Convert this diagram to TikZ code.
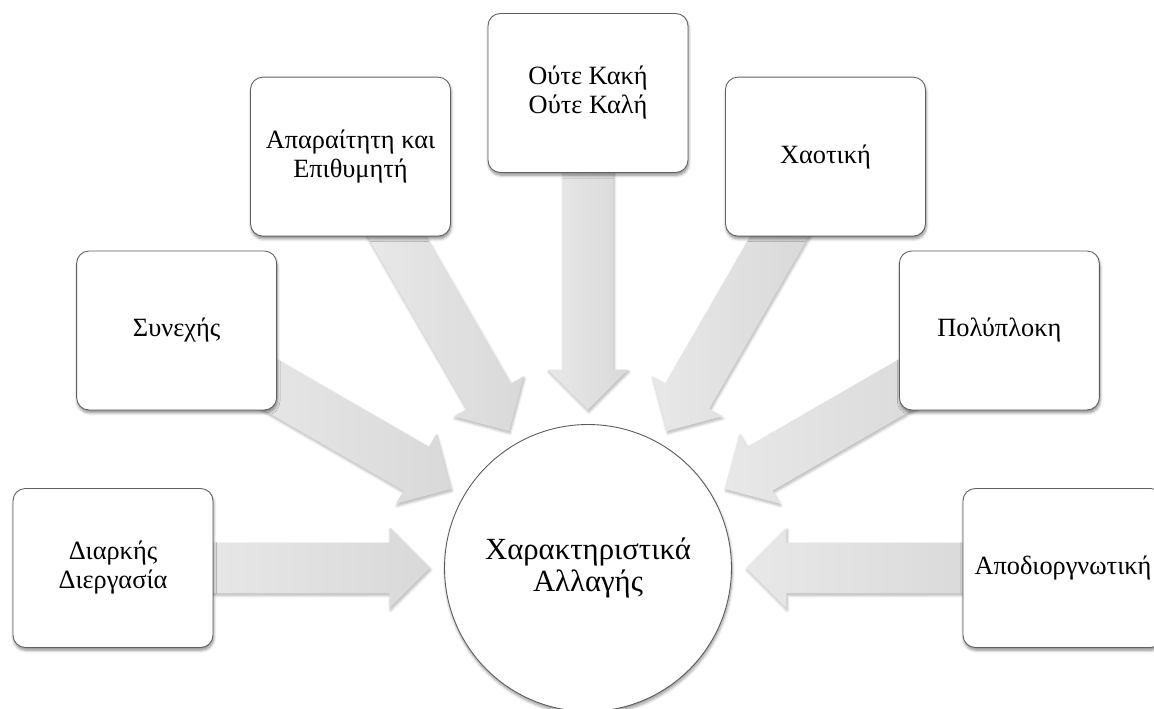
\documentclass[tikz,border=0pt]{standalone}
\usepackage{fontspec}
\setmainfont{Liberation Serif}
\usetikzlibrary{shapes.arrows,shadows.blur}
\pgfdeclarelayer{background}
\pgfsetlayers{background,main}

\begin{document}
\begin{tikzpicture}[x=0.02cm,y=0.02cm,
  box/.style={font=\fontsize{15}{16.5}\selectfont, align=center,
    draw=gray!75!black, line width=0.5pt, fill=white,
    rounded corners=7pt, minimum width=4cm, minimum height=3.18cm,
    inner sep=0pt,
    blur shadow={shadow xshift=0.4pt, shadow yshift=-1.6pt,
      shadow blur radius=1.6pt, shadow blur steps=6, shadow opacity=45}},
  hub/.style={font=\fontsize{17.5}{18.5}\selectfont, align=center,
    circle, draw=gray!70!black, line width=0.5pt, fill=white,
    minimum size=5.74cm, inner sep=0pt,
    blur shadow={shadow xshift=0.4pt, shadow yshift=-1.6pt,
      shadow blur radius=1.6pt, shadow blur steps=6, shadow opacity=40}},
  flow/.style={single arrow, sloped, allow upside down, draw=none,
    minimum height=4.84cm, minimum width=0pt, inner sep=0pt,
    inner ysep=0.5cm, single arrow head extend=0.3cm,
    single arrow tip angle=90,
    left color=gray!18, right color=gray!30,
    blur shadow={shadow xshift=0.5pt, shadow yshift=-1.2pt,
      shadow blur radius=1.5pt, shadow blur steps=6, shadow opacity=30}},
]
\useasboundingbox (0,0) rectangle (1154,709);

% central circle
\node[hub] (hub) at (588,141) {Χαρακτηριστικά\\Αλλαγής};

% the seven surrounding boxes, on a ring of radius 475
\node[box] (b1) at ([shift={(180:475)}]hub.center) {Διαρκής\\Διεργασία};
\node[box] (b2) at ([shift={(150:475)}]hub.center) {Συνεχής};
\node[box] (b3) at ([shift={(120:475)}]hub.center) {Απαραίτητη και\\Επιθυμητή};
\node[box] (b4) at ([shift={(90:475)}]hub.center) {Ούτε Κακή\\Ούτε Καλή};
\node[box] (b5) at ([shift={(60:475)}]hub.center) {Χαοτική};
\node[box] (b6) at ([shift={(30:475)}]hub.center) {Πολύπλοκη};
\node[box] (b7) at ([shift={(0:475)}]hub.center) {Αποδιοργνωτική};

% block arrows from each box towards the circle, behind the boxes
\begin{pgfonlayer}{background}
  \foreach \b in {b1,b2,b3,b4,b5,b6,b7}
    \path (\b.center) -- node[flow, pos=0.386] {} (hub.center);
\end{pgfonlayer}
\end{tikzpicture}
\end{document}
